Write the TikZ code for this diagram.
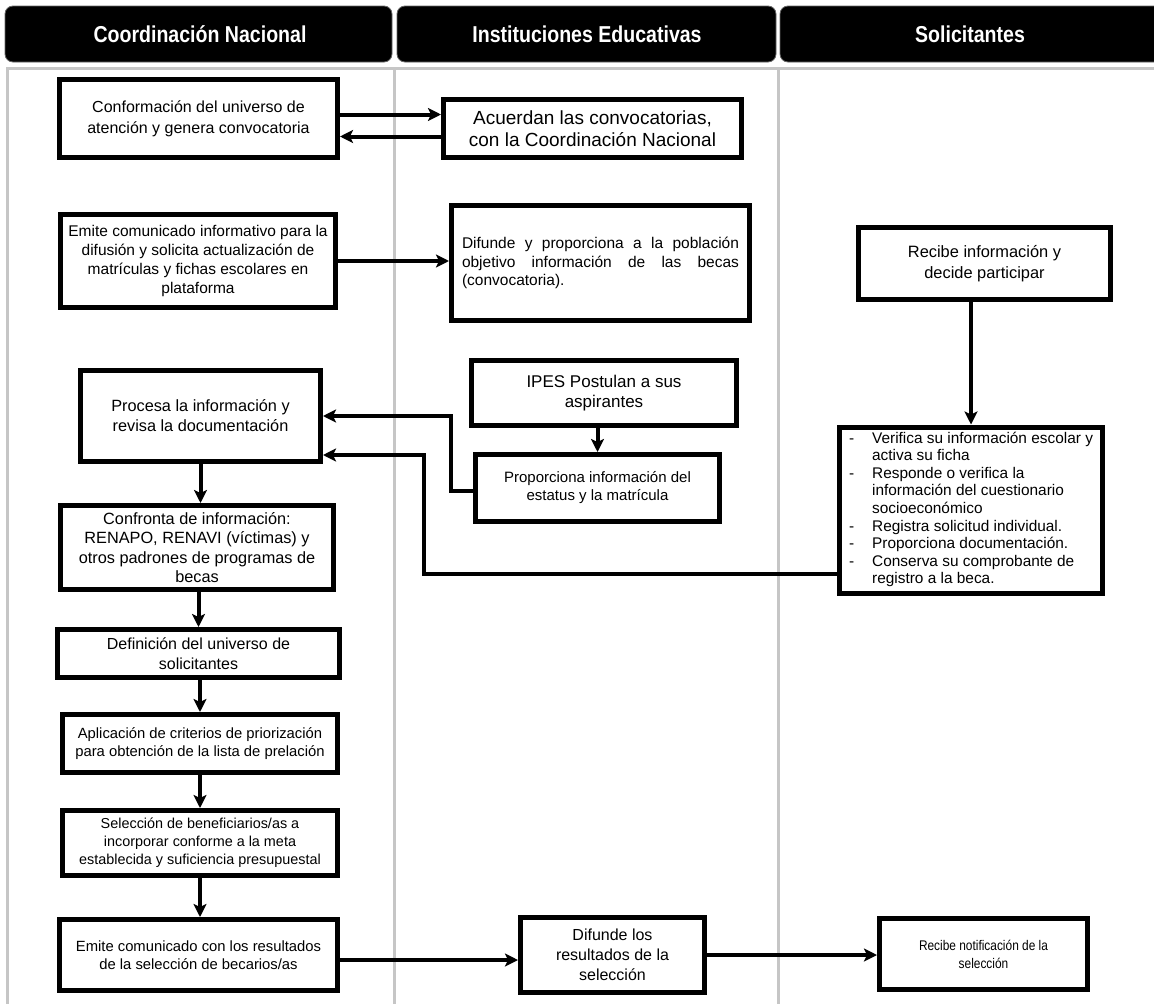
\documentclass[tikz,border=0pt]{standalone}
\usepackage{fontspec}
\setmainfont{Liberation Sans}
\newfontfamily\narrowfont{Liberation Sans}[FakeStretch=0.85]
\usetikzlibrary{arrows.meta, positioning, calc}

\begin{document}
\begin{tikzpicture}[x=1pt, y=-1pt,
    box/.style={draw, line width=5pt, align=center, inner sep=2pt},
    arr/.style={line width=4pt, -{Stealth[length=13pt, width=13pt, inset=3pt]}},
    lane/.style={draw=gray!45, line width=3pt},
    header/.style={fill=black, draw=black!60, rounded corners=8pt, line width=0.8pt},
    htext/.style={white, font=\narrowfont\bfseries\fontsize{23}{26}\selectfont}]
    \useasboundingbox (0,0) rectangle (1154,1004);

    % Lane headers
    \filldraw[header] (5,6) rectangle (392,62);
    \filldraw[header] (397,6) rectangle (776,62);
    \filldraw[header] (780,6) rectangle (1170,62);
    \node[htext] (hcoord) at (200,34) {Coordinación Nacional};
    \node[htext] (hinst) at (587,34) {Instituciones Educativas};
    \node[htext] (hsol) at (970,34) {Solicitantes};

    % Lane frames
    \draw[lane] (7,1010) -- (7,68) -- (1160,68);
    \draw[lane] (394,68) -- (394,1010);
    \draw[lane] (778,68) -- (778,1010);

    % Coordinacion Nacional
    \node[box, minimum width=278, minimum height=78, font=\fontsize{16}{21}\selectfont] (conf) at (198.5,118.5)
        {Conformación del universo de\\atención y genera convocatoria};
    \node[box, minimum width=275, minimum height=93, font=\fontsize{15.5}{19}\selectfont] (emite) at (198,261)
        {Emite comunicado informativo para la\\difusión y solicita actualización de\\matrículas y fichas escolares en\\plataforma};
    \node[box, minimum width=240, minimum height=91, font=\fontsize{16.3}{20}\selectfont] (procesa) at (200.5,416)
        {Procesa la información y\\revisa la documentación};
    \node[box, minimum width=273, minimum height=84, font=\fontsize{16.3}{19.5}\selectfont] (confronta) at (197,547.5)
        {Confronta de información:\\RENAPO, RENAVI (víctimas) y\\otros padrones de programas de\\becas};
    \node[box, minimum width=282, minimum height=48, font=\fontsize{16}{20}\selectfont] (definicion) at (198.5,653.5)
        {Definición del universo de\\solicitantes};
    \node[box, minimum width=275, minimum height=58, font=\fontsize{14.8}{18}\selectfont] (aplicacion) at (200,743.5)
        {Aplicación de criterios de priorización\\para obtención de la lista de prelación};
    \node[box, minimum width=275, minimum height=65, font=\fontsize{14.4}{18}\selectfont] (seleccion) at (200,843)
        {Selección de beneficiarios/as a\\incorporar conforme a la meta\\establecida y suficiencia presupuestal};
    \node[box, minimum width=278, minimum height=71, font=\fontsize{14.8}{18}\selectfont] (resultados) at (198.5,955)
        {Emite comunicado con los resultados\\de la selección de becarios/as};

    % Instituciones Educativas
    \node[box, minimum width=298, minimum height=58, font=\fontsize{19}{22}\selectfont] (acuerdan) at (592.5,128.5)
        {Acuerdan las convocatorias,\\con la Coordinación Nacional};
    \node[box, minimum width=298, minimum height=115, align=left, font=\fontsize{15.5}{18.5}\selectfont] (difunde) at (600.5,263)
        {\makebox[277pt][s]{Difunde y proporciona a la población}\\
         \makebox[277pt][s]{objetivo información de las becas}\\
         (convocatoria).};
    \node[box, minimum width=265, minimum height=65, font=\fontsize{17}{20}\selectfont] (ipes) at (604,393)
        {IPES Postulan a sus\\aspirantes};
    \node[box, minimum width=244, minimum height=67, font=\fontsize{15}{18}\selectfont] (proporciona) at (597.5,488)
        {Proporciona información del\\estatus y la matrícula};
    \node[box, minimum width=184, minimum height=75, font=\fontsize{16}{20}\selectfont] (difres) at (612.5,955)
        {Difunde los\\resultados de la\\selección};

    % Solicitantes
    \node[box, minimum width=252, minimum height=72, font=\fontsize{16.4}{21}\selectfont] (recibe) at (984.5,263.5)
        {Recibe información y\\decide participar};
    \node[box, minimum width=263, minimum height=166, align=left, font=\fontsize{15.4}{17.6}\selectfont] (verifica) at (971,510)
        {\begin{tabular}{@{}l@{\hspace{18pt}}l@{}}
          - & Verifica su información escolar y\\
            & activa su ficha\\
          - & Responde o verifica la\\
            & información del cuestionario\\
            & socioeconómico\\
          - & Registra solicitud individual.\\
          - & Proporciona documentación.\\
          - & Conserva su comprobante de\\
            & registro a la beca.
        \end{tabular}};
    \node[box, minimum width=208, minimum height=71, font=\narrowfont\fontsize{14}{18}\selectfont] (notif) at (983.5,954)
        {Recibe notificación de la\\selección};

    % Connectors
    \draw[arr] ([yshift=4pt]conf.east) -- ([yshift=4pt]conf.east -| acuerdan.west);
    \draw[arr] ([yshift=-8pt]acuerdan.west) -- ([yshift=-8pt]acuerdan.west -| conf.east);
    \draw[arr] (emite.east) -- (emite.east -| difunde.west);
    \draw[arr] (recibe.south -| verifica.north) -- (verifica.north);
    \draw[arr] (ipes.south -| proporciona.north) -- (proporciona.north);
    \draw[arr] ([yshift=-3pt]proporciona.west) -- ++(-22,0) |- (procesa.east);
    \draw[arr] ([yshift=-64pt]verifica.west) -- ++(-413,0) |- ([yshift=-39pt]procesa.east);
    \draw[arr] (procesa.south) -- (procesa.south |- confronta.north);
    \draw[arr] (confronta.south -| definicion.north) -- (definicion.north);
    \draw[arr] (definicion.south -| aplicacion.north) -- (aplicacion.north);
    \draw[arr] (aplicacion.south) -- (seleccion.north);
    \draw[arr] (seleccion.south) -- (seleccion.south |- resultados.north);
    \draw[arr] ([yshift=-5pt]resultados.east) -- ([yshift=-5pt]resultados.east -| difres.west);
    \draw[arr] (difres.east) -- (difres.east -| notif.west);
\end{tikzpicture}
\end{document}
